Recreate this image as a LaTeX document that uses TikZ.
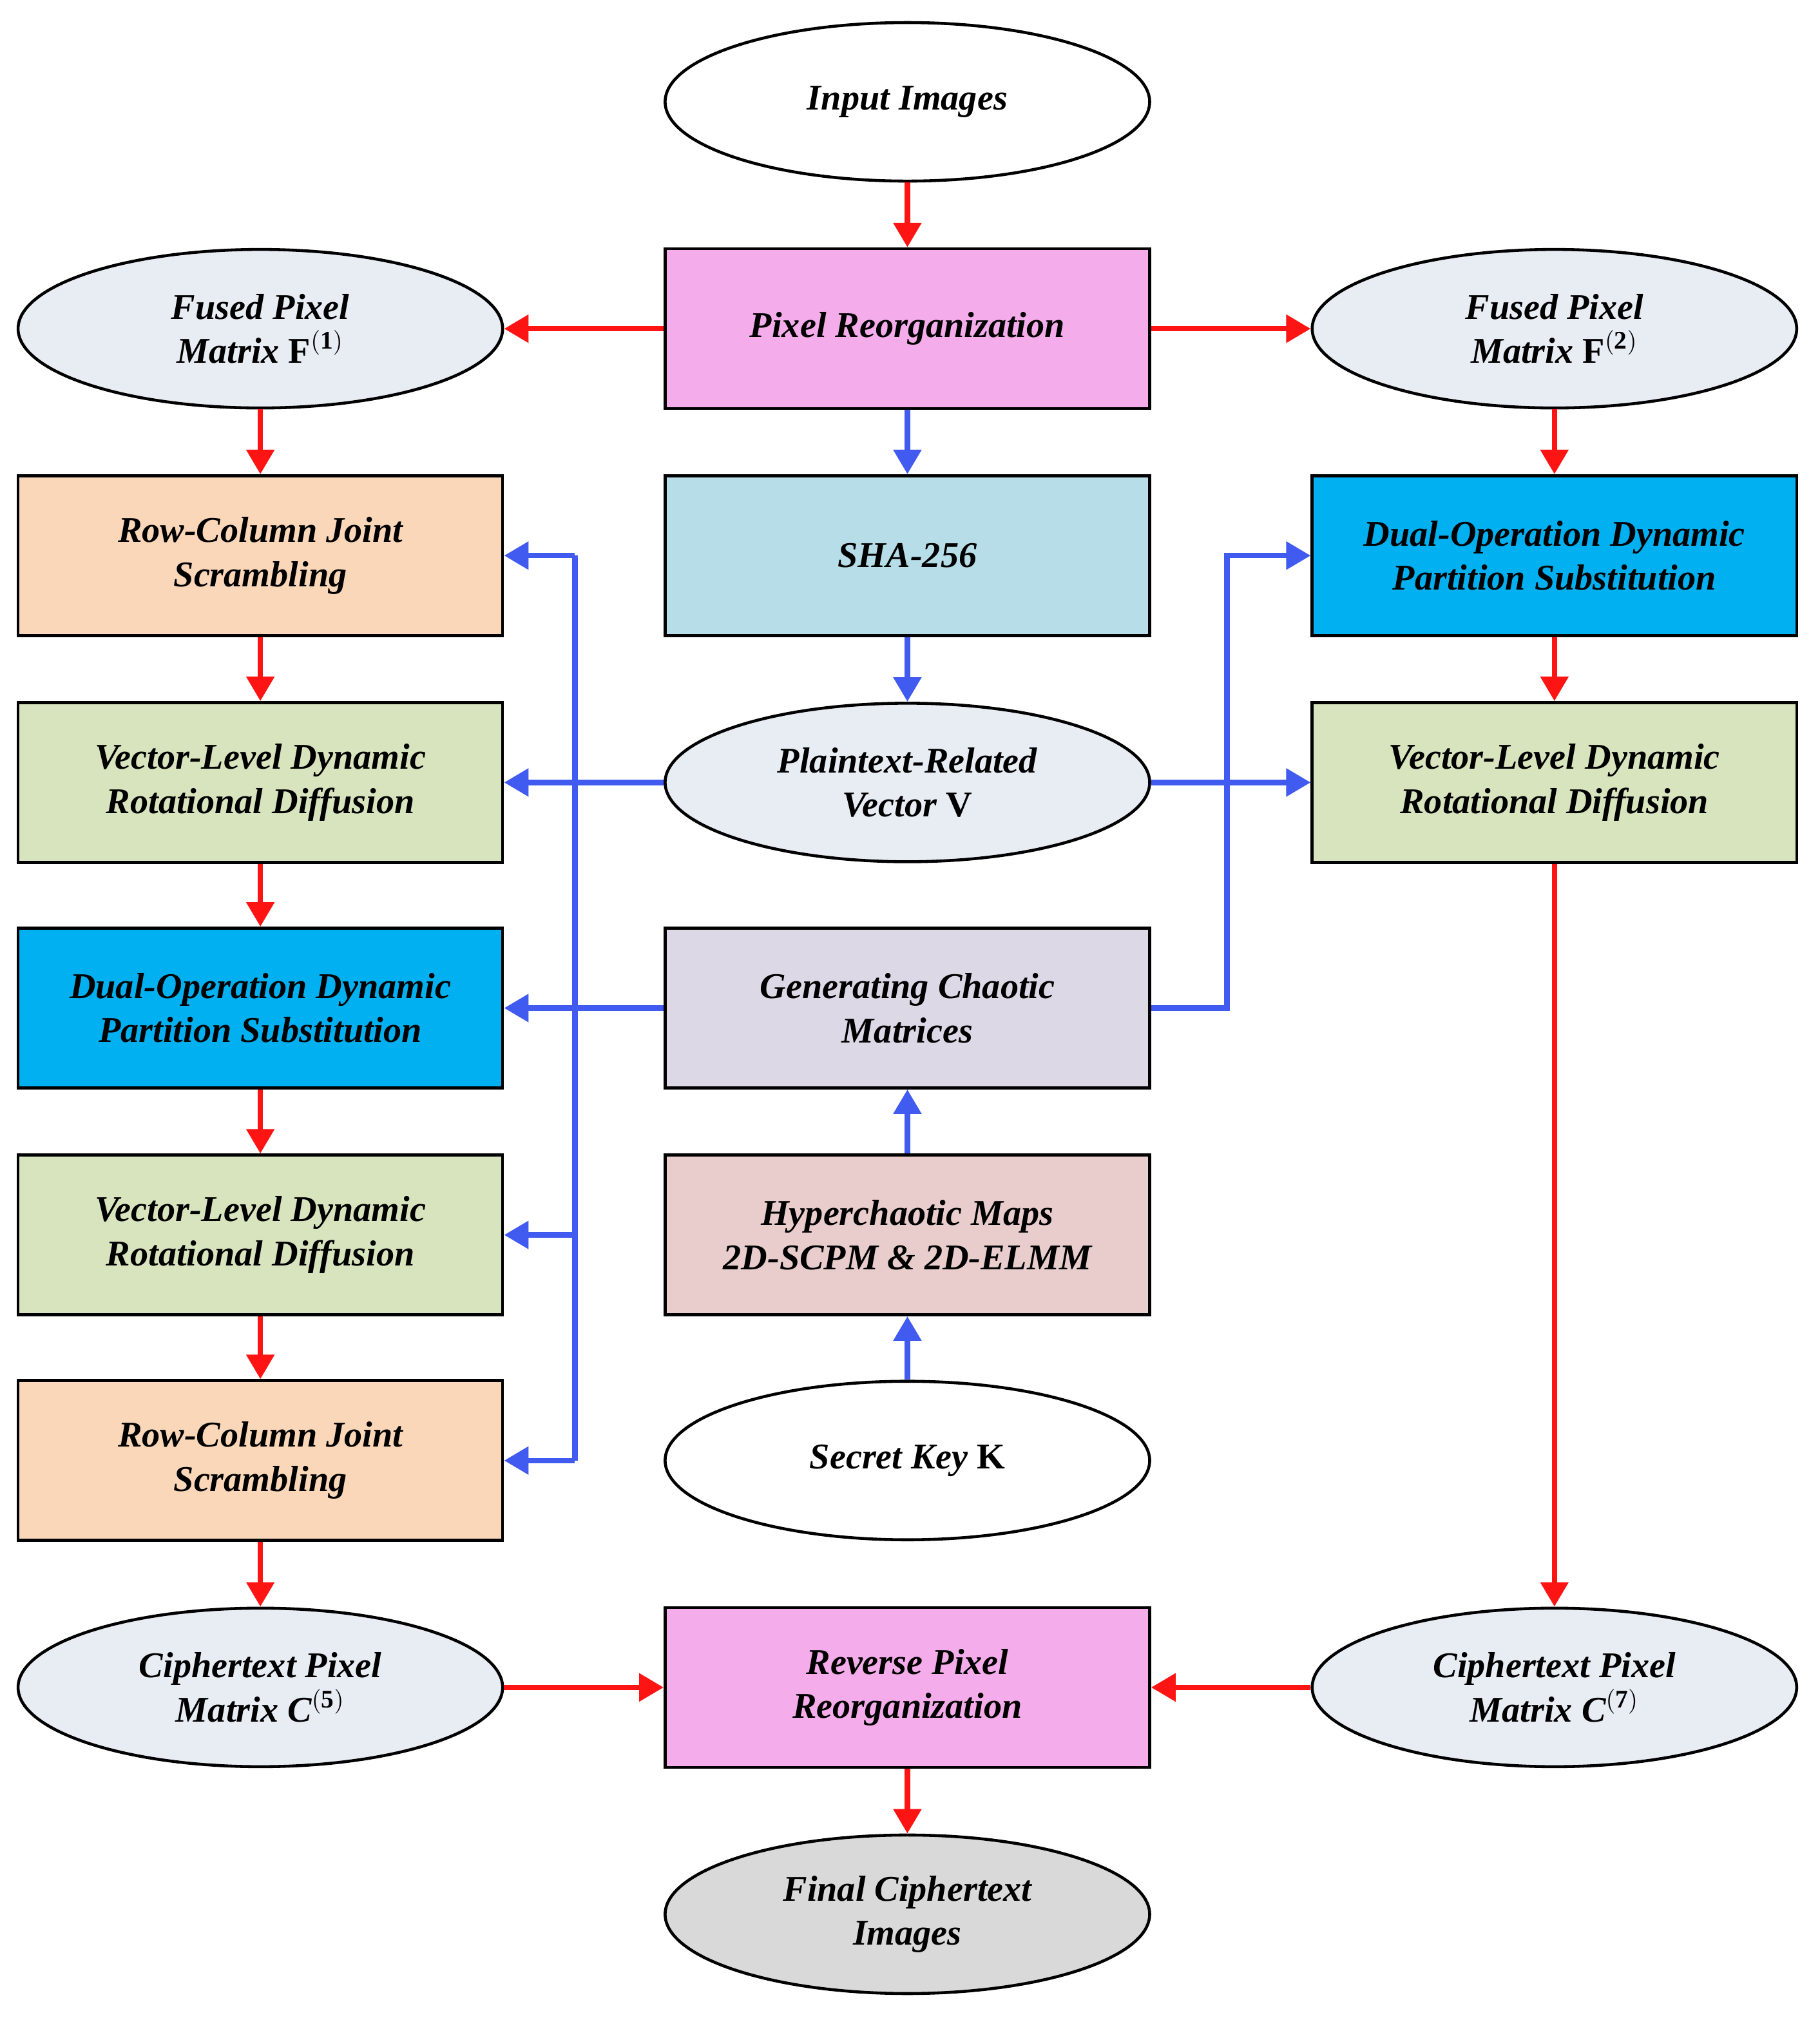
\documentclass[tikz,border=0pt]{standalone}
\usepackage{fontspec}
\setmainfont{Liberation Serif}
\usetikzlibrary{shapes.geometric,arrows.meta}
\definecolor{cpink}{RGB}{244,172,234}
\definecolor{corange}{RGB}{250,215,185}
\definecolor{cgreen}{RGB}{216,228,190}
\definecolor{ccyan}{RGB}{0,176,240}
\definecolor{clblue}{RGB}{183,221,232}
\definecolor{clav}{RGB}{220,216,230}
\definecolor{crose}{RGB}{233,205,205}
\definecolor{cell}{RGB}{232,237,244}
\definecolor{cgrey}{RGB}{217,217,217}
\definecolor{cred}{RGB}{255,20,20}
\definecolor{cblue}{RGB}{65,90,240}
\begin{document}
\begin{tikzpicture}[x=0.02cm,y=-0.02cm,
  base/.style={draw=black,line width=1.3pt,minimum width=7.52cm,minimum height=2.48cm,align=center,
    font=\fontsize{16}{19.5}\selectfont\bfseries\itshape,inner sep=2pt},
  box/.style={base,rectangle},
  ell/.style={base,ellipse,minimum width=7.52cm,minimum height=2.46cm},
  r/.style={draw=cred,line width=2.4pt,-{Triangle[length=0.38cm,width=0.42cm]}},
  b/.style={draw=cblue,line width=2.4pt,-{Triangle[length=0.38cm,width=0.42cm]}},
  bl/.style={draw=cblue,line width=2.4pt}]
\useasboundingbox (0,0) rectangle (1412,1574);
\node[ell,fill=white] (in) at (704,79) {Input Images};
\node[box,fill=cpink] (pr) at (704,255) {Pixel Reorganization};
\node[ell,fill=cell] (f1) at (202,255) {Fused Pixel\\Matrix \textup{F}$^{\mathbf{(1)}}$};
\node[ell,fill=cell] (f2) at (1206,255) {Fused Pixel\\Matrix \textup{F}$^{\mathbf{(2)}}$};
\node[box,fill=corange] (rc1) at (202,431) {Row-Column Joint\\Scrambling};
\node[box,fill=clblue] (sha) at (704,431) {SHA-256};
\node[box,fill=ccyan] (do2) at (1206,431) {Dual-Operation Dynamic\\Partition Substitution};
\node[box,fill=cgreen] (vl1) at (202,607) {Vector-Level Dynamic\\Rotational Diffusion};
\node[ell,fill=cell] (v) at (704,607) {Plaintext-Related\\Vector \textup{V}};
\node[box,fill=cgreen] (vl3) at (1206,607) {Vector-Level Dynamic\\Rotational Diffusion};
\node[box,fill=ccyan] (do1) at (202,782) {Dual-Operation Dynamic\\Partition Substitution};
\node[box,fill=clav] (gen) at (704,782) {Generating Chaotic\\Matrices};
\node[box,fill=cgreen] (vl2) at (202,958) {Vector-Level Dynamic\\Rotational Diffusion};
\node[box,fill=crose] (hyp) at (704,958) {Hyperchaotic Maps\\2D-SCPM \& 2D-ELMM};
\node[box,fill=corange] (rc2) at (202,1133) {Row-Column Joint\\Scrambling};
\node[ell,fill=white] (key) at (704,1133) {Secret Key \textup{K}};
\node[ell,fill=cell] (c5) at (202,1309) {Ciphertext Pixel\\Matrix C$^{\mathbf{(5)}}$};
\node[box,fill=cpink] (rpr) at (704,1309) {Reverse Pixel\\Reorganization};
\node[ell,fill=cell] (c7) at (1206,1309) {Ciphertext Pixel\\Matrix C$^{\mathbf{(7)}}$};
\node[ell,fill=cgrey] (fin) at (704,1485) {Final Ciphertext\\Images};
% red
\draw[r] (in) -- (pr);
\draw[r] (pr) -- (f1);
\draw[r] (pr) -- (f2);
\draw[r] (f1) -- (rc1);
\draw[r] (rc1) -- (vl1);
\draw[r] (vl1) -- (do1);
\draw[r] (do1) -- (vl2);
\draw[r] (vl2) -- (rc2);
\draw[r] (rc2) -- (c5);
\draw[r] (f2) -- (do2);
\draw[r] (do2) -- (vl3);
\draw[r] (vl3) -- (c7);
\draw[r] (c5) -- (rpr);
\draw[r] (c7) -- (rpr);
\draw[r] (rpr) -- (fin);
% blue
\draw[b] (pr) -- (sha);
\draw[b] (sha) -- (v);
\draw[b] (v) -- (vl1);
\draw[b] (v) -- (vl3);
\draw[b] (gen) -- (do1);
\draw[b] (hyp) -- (gen);
\draw[b] (key) -- (hyp);
\coordinate (gr) at (952,782);
\draw[b] (gen.east) -- (gr) |- (do2.west);
\coordinate (bt) at (446,431);
\coordinate (bb) at (446,1133);
\draw[bl] (bt) -- (bb);
\draw[b] (bt) -- (rc1.east);
\draw[b] (446,958) -- (vl2.east);
\draw[b] (bb) -- (rc2.east);
\end{tikzpicture}
\end{document}
